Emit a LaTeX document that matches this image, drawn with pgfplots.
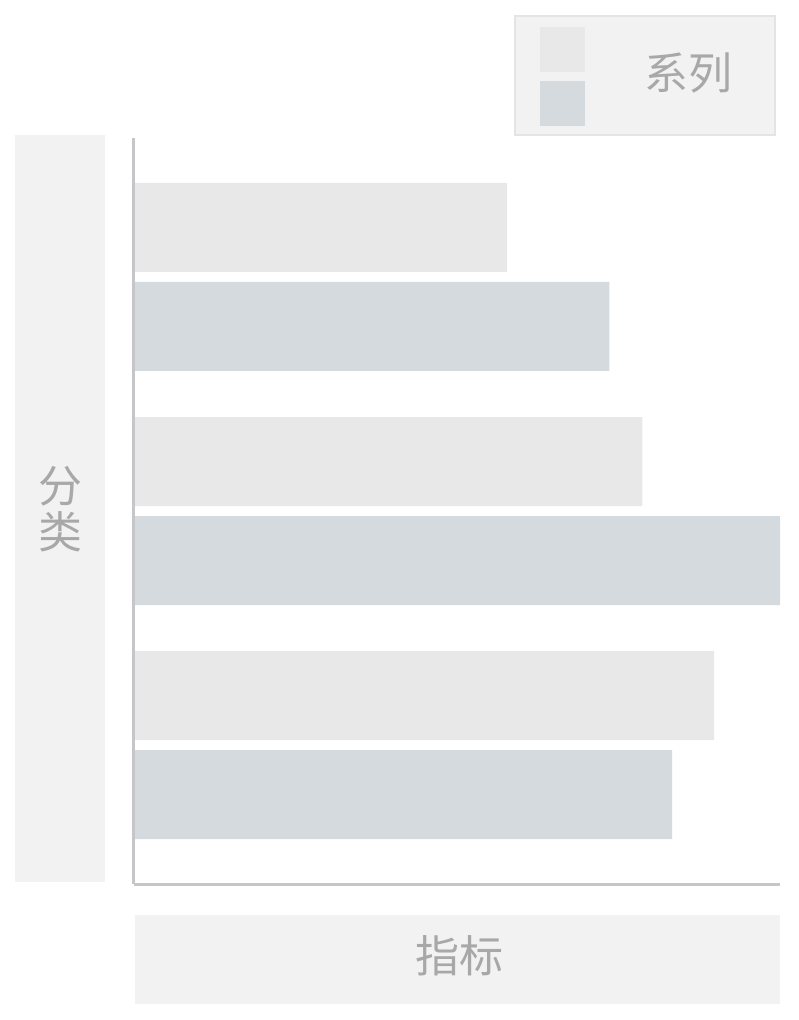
\documentclass[border=0pt]{standalone}
\usepackage{pgfplots}
\pgfplotsset{compat=1.18}
\usepackage{fontspec}
\setmainfont{Noto Sans CJK SC}
\definecolor{serA}{HTML}{E8E8E8}
\definecolor{serB}{HTML}{D5DADE}
\definecolor{boxbg}{HTML}{F2F2F2}
\definecolor{boxborder}{HTML}{E4E4E4}
\definecolor{axisgray}{HTML}{C6C6CA}
\definecolor{txtgray}{HTML}{A8A8A8}
\begin{document}
\begin{tikzpicture}[x=1pt,y=1pt]
\path (0,0) rectangle (798,1020);
% y label box
\fill[boxbg] (15,138) rectangle (105,885);
\node[text=txtgray, font=\fontsize{44}{46}\selectfont, align=center] at (60,511) {分\\类};
% x label box
\fill[boxbg] (135,16) rectangle (780,105);
\node[text=txtgray, font=\fontsize{44}{46}\selectfont] at (459,64) {指标};
\begin{axis}[
  at={(133.5pt,135.5pt)}, anchor=south west,
  scale only axis, width=646.5pt, height=746.5pt,
  xmin=0, xmax=100, ymin=0.404, ymax=3.594,
  axis x line*=bottom, axis y line*=left,
  ticks=none,
  axis line style={draw=axisgray, line width=3pt},
  axis on top,
  clip=false,
]
\addplot[xbar, bar width=89pt, bar shift=49.5pt, fill=serA, draw=none]
  coordinates {(57.8,3) (78.7,2) (89.8,1)};
\addplot[xbar, bar width=89pt, bar shift=-49.5pt, fill=serB, draw=none]
  coordinates {(73.6,3) (100,2) (83.3,1)};
\end{axis}
% legend
\filldraw[fill=boxbg, draw=boxborder, line width=2pt] (515,885) rectangle (775,1004);
\fill[serA] (540,948) rectangle (585,993);
\fill[serB] (540,894) rectangle (585,939);
\node[text=txtgray, font=\fontsize{44}{46}\selectfont] at (688,947) {系列};
\end{tikzpicture}
\end{document}
